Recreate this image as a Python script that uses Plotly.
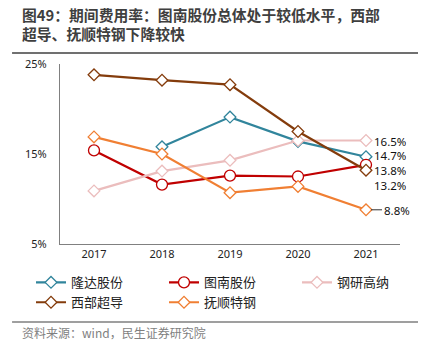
import plotly.graph_objects as go

years = ["2017", "2018", "2019", "2020", "2021"]
longda = [None, 15.8, 19.1, 16.4, 14.7]
tunan = [15.4, 11.6, 12.6, 12.5, 13.8]
gangyan = [10.9, 13.1, 14.3, 16.5, 16.5]
xibu = [23.8, 23.2, 22.7, 17.5, 13.2]
fushun = [16.9, 15.0, 10.7, 11.4, 8.8]

names = ["隆达股份", "图南股份", "钢研高纳", "西部超导", "抚顺特钢"]
series = [longda, tunan, gangyan, xibu, fushun]
colors = ["#31859C", "#C00000", "#EBBDBD", "#843C0C", "#F07F33"]
symbols = ["diamond", "circle", "diamond", "diamond", "diamond"]
sizes = [9, 11, 9, 9, 9]

label_text = ["14.7%", "13.8%", "16.5%", "13.2%", "8.8%"]
label_shift = [2, -5, 0, -15, 0]

CJK = "Noto Sans CJK SC"

fig = go.Figure()
for n, v, c, s, sz in zip(names, series, colors, symbols, sizes):
    fig.add_trace(go.Scatter(
        x=years, y=v, name=n, mode="lines+markers",
        line=dict(color=c, width=2.2),
        marker=dict(symbol=s, size=sz, color="white",
                    line=dict(color=c, width=1.3)),
        connectgaps=False,
    ))

last = len(years) - 1
for i, (v, t, sh) in enumerate(zip(series, label_text, label_shift)):
    if t == "8.8%":
        fig.add_annotation(x=last, y=v[-1], text=t, showarrow=True,
                           arrowhead=0, arrowwidth=1, arrowcolor="#333333",
                           ax=16, ay=0, xanchor="left", standoff=5, height=12,
                           font=dict(family="Noto Sans", size=11.5, color="#111111"))
    else:
        fig.add_annotation(x=last, y=v[-1], text=t, showarrow=False,
                           xanchor="left", xshift=6, yshift=sh, height=12,
                           font=dict(family="Noto Sans", size=11.5, color="#111111"))

fig.add_annotation(xref="paper", yref="paper", x=-0.118, y=1.0, yshift=62,
                   xanchor="left", yanchor="top", align="left", showarrow=False,
                   text="<b>图49：期间费用率：图南股份总体处于较低水平，西部<br>超导、抚顺特钢下降较快</b>",
                   font=dict(family=CJK, size=14.8, color="#3F3F3F"))
fig.add_annotation(xref="paper", yref="paper", x=-0.118, y=0, yshift=-78,
                   xanchor="left", yanchor="top", showarrow=False,
                   text="资料来源：wind，民生证券研究院",
                   font=dict(family=CJK, size=12, color="#7F7F7F"))

top_line = 1 + (64 - 53) / 180
bot_line = -(322 - 244) / 180

fig.update_layout(
    width=430, height=357,
    margin=dict(l=60, r=30, t=64, b=113),
    paper_bgcolor="white", plot_bgcolor="white",
    showlegend=True,
    legend=dict(orientation="h", x=-0.05, y=-0.13, xanchor="left", yanchor="top",
                entrywidth=88, entrywidthmode="pixels",
                font=dict(family=CJK, size=13, color="#222222"),
                tracegroupgap=0, itemwidth=30, bgcolor="rgba(0,0,0,0)"),
    xaxis=dict(type="category", showgrid=False, showline=True, linecolor="#808080",
               linewidth=1.2, ticks="", range=[-0.5, 4.5],
               tickfont=dict(family="Noto Sans", size=11, color="#222222")),
    yaxis=dict(range=[5, 25], tickvals=[5, 15, 25], ticktext=["5%", "15%", "25%"],
               showgrid=False, showline=True, linecolor="#808080", linewidth=1.2,
               ticks="", zeroline=False, ticklabelstandoff=10,
               tickfont=dict(family="Noto Sans", size=11, color="#222222")),
    shapes=[
        dict(type="line", xref="paper", yref="paper", x0=-0.141, x1=1.053,
             y0=top_line, y1=top_line, line=dict(color="#404040", width=1.5)),
        dict(type="line", xref="paper", yref="paper", x0=-0.141, x1=1.053,
             y0=bot_line, y1=bot_line, line=dict(color="#404040", width=1.2)),
    ],
)

fig.write_html("out.html", config={"displayModeBar": False},
               post_script="document.body.style.margin='0';")
